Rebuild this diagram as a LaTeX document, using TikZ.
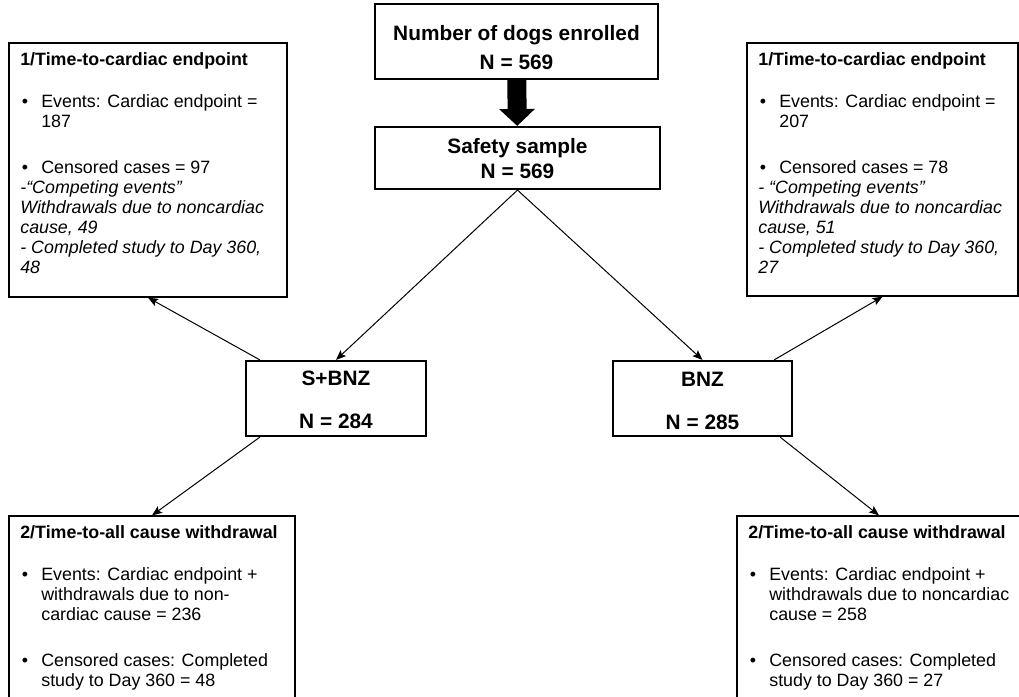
\documentclass[tikz,border=0pt]{standalone}
\usepackage{fontspec}
\setmainfont{Liberation Sans}
\usetikzlibrary{arrows.meta,fit,positioning}
\newdimen\pxu \pxu=0.6pt
\newcommand{\bul}{\makebox[21\pxu][l]{\hspace{1.5\pxu}\textbullet}}
\newcommand{\ind}{\hspace*{21\pxu}}

\tikzset{
  panel/.style={draw, line width=0.75pt, inner sep=0pt},
  grpbox/.style={draw, line width=1.3pt, inner sep=0pt},
  paneltext/.style={font=\fontsize{10.7}{12}\selectfont, align=left, inner sep=0pt, anchor=base west},
  grptext/.style={font=\fontsize{12.5}{15}\selectfont\bfseries, align=center, inner sep=0pt, anchor=base},
  conn/.style={-{Stealth[length=6pt,width=4.8pt,inset=1.2pt]}, line width=0.6pt}
}

\begin{document}
\begin{tikzpicture}[x=0.6pt, y=-0.6pt]
\useasboundingbox (0,0) rectangle (1019,697);
\clip (0,0) rectangle (1019,697);

% centre column (text nodes sit on the baseline of their last line)
\node[grpbox, fit={(375,4) (658,79)}] (enroll) {};
\node[grptext] (enrolltxt) at (516.5,70) {Number of dogs enrolled\\[2.4pt]N = 569};
\node[grpbox, fit={(375,127) (660,189)}] (safety) {};
\node[grptext] (safetytxt) at (517.5,179) {Safety sample\\N = 569};

\draw[line width=11.4pt, -{Triangle[length=10.2pt,width=21pt]}] (enroll) -- (safety);

% treatment groups
\node[grpbox, fit={(246,361) (426,436)}] (sbnz) {};
\node[grptext] (sbnztxt) at (336,428) {S+BNZ\\[10.8pt]N = 284};
\node[grpbox, fit={(613,361) (792,436)}] (bnz) {};
\node[grptext] (bnztxt) at (702.5,429) {BNZ\\[10.8pt]N = 285};

% endpoint 1
\node[panel, fit={(9,43) (287,297)}] (cardL) {};
\node[paneltext] (cardLtxt) at (20,273) {{\bfseries 1/Time-to-cardiac endpoint}\\[13.2pt]
  \bul Events: Cardiac endpoint =\\
  \ind 187\\[15.6pt]
  \bul Censored cases = 97\\
  {\itshape -“Competing events”}\\
  {\itshape Withdrawals due to noncardiac}\\
  {\itshape cause, 49}\\
  {\itshape - Completed study to Day 360,}\\
  {\itshape 48}};
\node[panel, fit={(747,43) (1018,296)}] (cardR) {};
\node[paneltext] (cardRtxt) at (758,273) {{\bfseries 1/Time-to-cardiac endpoint}\\[13.2pt]
  \bul Events: Cardiac endpoint =\\
  \ind 207\\[15.6pt]
  \bul Censored cases = 78\\
  {\itshape - “Competing events”}\\
  {\itshape Withdrawals due to noncardiac}\\
  {\itshape cause, 51}\\
  {\itshape - Completed study to Day 360,}\\
  {\itshape 27}};

% endpoint 2
\node[panel, fit={(9,516) (295,712)}] (wdL) {};
\node[paneltext] (wdLtxt) at (20,686) {{\bfseries 2/Time-to-all cause withdrawal}\\[13.2pt]
  \bul Events: Cardiac endpoint +\\
  \ind withdrawals due to non-\\
  \ind cardiac cause = 236\\[15.6pt]
  \bul Censored cases: Completed\\
  \ind study to Day 360 = 48};
\node[panel, fit={(737,516) (1021,712)}] (wdR) {};
\node[paneltext] (wdRtxt) at (748,686) {{\bfseries 2/Time-to-all cause withdrawal}\\[13.2pt]
  \bul Events: Cardiac endpoint +\\
  \ind withdrawals due to noncardiac\\
  \ind cause = 258\\[15.6pt]
  \bul Censored cases: Completed\\
  \ind study to Day 360 = 27};

% connectors
\draw[conn] (safety.south) -- (sbnz.north);
\draw[conn] (safety.south) -- (bnz.north);
\draw[conn] ([xshift=15\pxu]sbnz.north west) -- (cardL.south);
\draw[conn] ([xshift=-19\pxu]bnz.north east) -- (cardR.south);
\draw[conn] ([xshift=15\pxu]sbnz.south west) -- (wdL.north);
\draw[conn] ([xshift=-13\pxu]bnz.south east) -- (wdR.north);
\end{tikzpicture}
\end{document}
